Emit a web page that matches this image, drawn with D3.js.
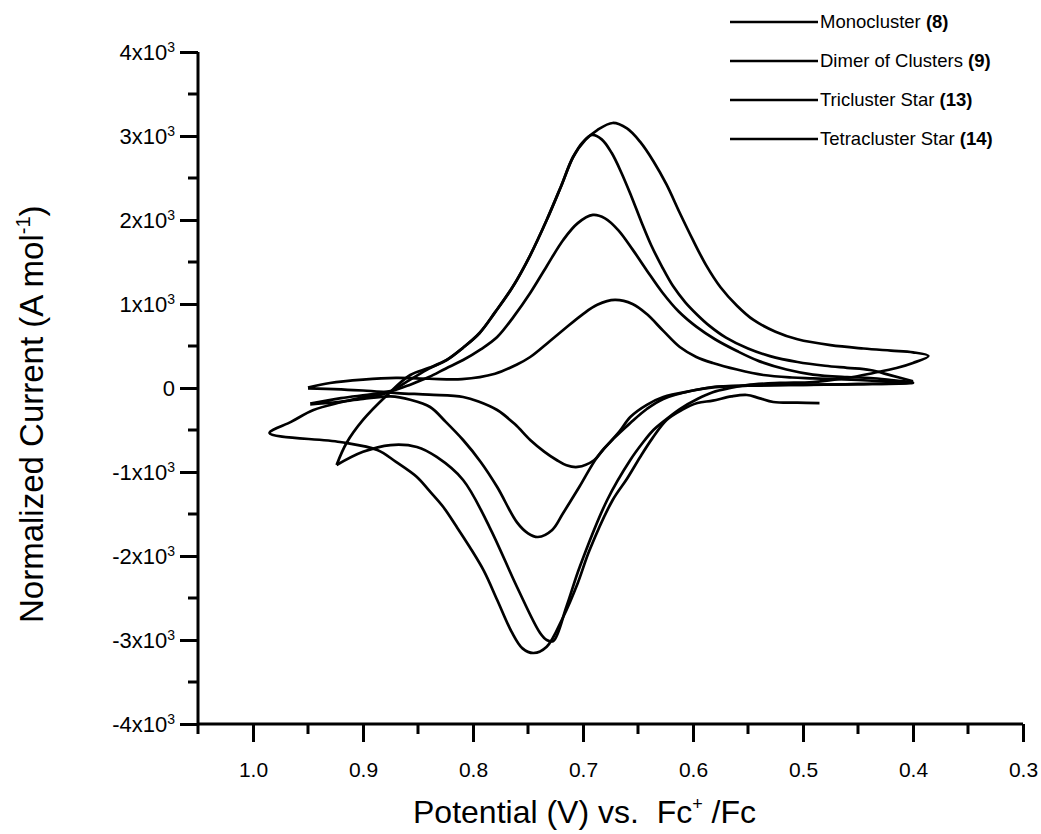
<!DOCTYPE html>
<html>
<head>
<meta charset="utf-8">
<script src="https://cdn.jsdelivr.net/npm/d3@7"></script>
<style>
	body { margin: 0; background: #fff; }
	svg { display: block; font-family: Arial, 'Liberation Sans', sans-serif; }
</style>
</head>
<body>
<div class="cv-plot"></div>
<script>
const width = 1041,
	height = 834

// voltammograms, [potential (V), normalized current (A/mol)]
const monocluster = [
	[0.95, 5], [0.93, 60], [0.9, 100], [0.87, 120], [0.84, 110], [0.81, 105],
	[0.78, 170], [0.76, 280], [0.748, 369], [0.73, 560], [0.718, 690], [0.7, 880],
	[0.687, 990], [0.671, 1048], [0.655, 1000], [0.642, 880], [0.627, 680],
	[0.612, 488], [0.597, 370], [0.582, 298], [0.56, 220], [0.536, 155],
	[0.51, 125], [0.491, 115], [0.45, 95], [0.42, 75], [0.4, 60],
	[0.45, 45], [0.5, 38], [0.55, 28], [0.582, 12], [0.6, -30], [0.627, -107],
	[0.642, -200], [0.657, -345], [0.667, -520], [0.682, -738], [0.69, -860],
	[0.705, -940], [0.715, -920], [0.724, -857], [0.735, -760], [0.748, -619],
	[0.762, -430], [0.778, -262], [0.795, -160], [0.809, -107], [0.84, -80],
	[0.869, -60], [0.9, -30], [0.95, -5]
]
const dimer = [
	[0.948, -185], [0.92, -120], [0.89, -70], [0.87, -20], [0.857, 40],
	[0.84, 130], [0.825, 230], [0.809, 333], [0.793, 460], [0.778, 607],
	[0.763, 850], [0.748, 1131], [0.733, 1450], [0.718, 1762], [0.705, 1960],
	[0.691, 2060], [0.68, 2020], [0.668, 1880], [0.655, 1650], [0.642, 1400],
	[0.628, 1140], [0.613, 910], [0.597, 730], [0.58, 580], [0.56, 440],
	[0.54, 320], [0.515, 220], [0.491, 160], [0.46, 130], [0.439, 119],
	[0.42, 95], [0.4, 65],
	[0.45, 45], [0.5, 38], [0.55, 28], [0.58, 10], [0.6, -30], [0.627, -130],
	[0.642, -250], [0.657, -417], [0.672, -600], [0.687, -821], [0.703, -1170],
	[0.718, -1488], [0.728, -1690], [0.741, -1774], [0.75, -1730], [0.76, -1600],
	[0.778, -1179], [0.793, -880], [0.809, -619], [0.825, -400], [0.839, -226],
	[0.857, -140], [0.875, -100], [0.9, -130], [0.925, -170], [0.948, -195]
]
const tricluster = [
	[0.485, -179], [0.505, -175], [0.527, -167], [0.54, -120], [0.551, -83],
	[0.565, -100], [0.582, -150], [0.596, -179], [0.61, -260], [0.624, -381],
	[0.637, -600], [0.648, -821], [0.66, -1080], [0.673, -1333], [0.694, -1929],
	[0.705, -2330], [0.718, -2726], [0.733, -3080], [0.745, -3155], [0.755, -3100],
	[0.765, -2900], [0.778, -2524], [0.79, -2180], [0.803, -1893], [0.815, -1650],
	[0.827, -1417], [0.84, -1220], [0.851, -1060], [0.87, -880], [0.887, -738],
	[0.921, -643], [0.985, -536],
	[0.965, -400], [0.945, -262], [0.92, -170], [0.9, -110], [0.878, -60],
	[0.857, 100], [0.84, 230], [0.824, 333], [0.809, 480], [0.794, 655],
	[0.78, 900], [0.764, 1202], [0.748, 1580], [0.733, 2000], [0.72, 2400],
	[0.709, 2750], [0.7, 2930], [0.692, 3012], [0.683, 2960], [0.674, 2800],
	[0.665, 2560], [0.656, 2280], [0.647, 1980], [0.638, 1700], [0.628, 1440],
	[0.618, 1210], [0.607, 1020], [0.596, 870], [0.585, 740], [0.57, 600],
	[0.55, 470], [0.53, 380], [0.505, 310], [0.48, 265], [0.46, 240],
	[0.439, 214], [0.42, 150], [0.4, 80]
]
const tetracluster = [
	[0.924, -917], [0.915, -655], [0.9, -380], [0.878, -83], [0.857, 155],
	[0.84, 240], [0.824, 333], [0.809, 480], [0.794, 655], [0.78, 900],
	[0.764, 1202], [0.748, 1580], [0.733, 2000], [0.72, 2400], [0.709, 2750],
	[0.698, 2950], [0.687, 3071], [0.673, 3155], [0.66, 3090], [0.648, 2930],
	[0.636, 2700], [0.624, 2420], [0.612, 2083], [0.6, 1760], [0.588, 1460],
	[0.575, 1200], [0.56, 980], [0.545, 810], [0.525, 670], [0.505, 580],
	[0.475, 510], [0.445, 470], [0.42, 445], [0.4, 425], [0.386, 381],
	[0.4, 298], [0.415, 238], [0.436, 179], [0.46, 119], [0.491, 71], [0.521, 60],
	[0.551, 36], [0.566, 0], [0.582, -50], [0.596, -130], [0.612, -250],
	[0.627, -400], [0.636, -500], [0.645, -640], [0.657, -857], [0.678, -1333],
	[0.703, -2131], [0.715, -2600], [0.727, -3012], [0.733, -3000], [0.739, -2917],
	[0.76, -2369], [0.785, -1655], [0.809, -1095], [0.833, -821], [0.851, -702],
	[0.875, -679], [0.9, -760], [0.924, -917]
]

const seriesNames = [
	['Monocluster ', '(8)'],
	['Dimer of Clusters ', '(9)'],
	['Tricluster Star ', '(13)'],
	['Tetracluster Star ', '(14)']
]
const seriesData = [monocluster, dimer, tricluster, tetracluster]

const xMajor = [1.0, 0.9, 0.8, 0.7, 0.6, 0.5, 0.4, 0.3]
const xMinor = [1.05, 0.95, 0.85, 0.75, 0.65, 0.55, 0.45, 0.35]
const yMajor = [-4, -3, -2, -1, 0, 1, 2, 3, 4]
const yMinor = [-3.5, -2.5, -1.5, -0.5, 0.5, 1.5, 2.5, 3.5]

const svg = d3
	.select('.cv-plot')
	.append('svg')
	.attr('width', width)
	.attr('height', height)

svg.append('rect').attr('width', width).attr('height', height).attr('fill', '#fff')

const x = d3.scaleLinear().domain([1.05, 0.3]).range([198, 1023])
const y = d3.scaleLinear().domain([-4000, 4000]).range([724, 52])

// curves
const line = d3
	.line()
	.x(d => x(d[0]))
	.y(d => y(d[1]))
	.curve(d3.curveCatmullRom.alpha(0.5))

svg
	.selectAll('path.cv')
	.data(seriesData)
	.enter()
	.append('path')
	.attr('class', 'cv')
	.attr('d', line)
	.attr('fill', 'none')
	.attr('stroke', '#000')
	.attr('stroke-width', 2.7)
	.attr('stroke-linejoin', 'round')

// axes
const xAxis = svg.append('g').attr('transform', `translate(0,${y(-4000)})`)
xAxis
	.call(d3.axisBottom(x).tickValues(xMajor).tickSize(18).tickFormat(d3.format('.1f')))
xAxis.selectAll('.tick line').attr('stroke-width', 3)
xAxis.select('.domain').attr('stroke-width', 3).attr('d', `M${x(1.05)},0H${x(0.3)}`)
xAxis
	.selectAll('.tick text')
	.attr('y', 53)
	.attr('dy', 0)
	.style('font-size', '21px')
	.attr('fill', '#000')

xAxis
	.selectAll('line.minor')
	.data(xMinor)
	.enter()
	.append('line')
	.attr('class', 'minor')
	.attr('x1', d => x(d))
	.attr('x2', d => x(d))
	.attr('y2', 10)
	.attr('stroke', '#000')
	.attr('stroke-width', 3)

const yAxis = svg.append('g').attr('transform', `translate(${x(1.05)},0)`)
yAxis.call(d3.axisLeft(y).tickValues(yMajor.map(v => v * 1000)).tickSize(18).tickFormat(''))
yAxis.selectAll('.tick line').attr('stroke-width', 3)
yAxis.select('.domain').attr('stroke-width', 3).attr('d', `M0,${y(4000)}V${y(-4000)}`)

yAxis
	.selectAll('line.minor')
	.data(yMinor)
	.enter()
	.append('line')
	.attr('class', 'minor')
	.attr('y1', d => y(d * 1000))
	.attr('y2', d => y(d * 1000))
	.attr('x2', -10)
	.attr('stroke', '#000')
	.attr('stroke-width', 3)

const yLabels = yAxis
	.selectAll('text.ylab')
	.data(yMajor)
	.enter()
	.append('text')
	.attr('class', 'ylab')
	.attr('x', -23)
	.attr('y', d => y(d * 1000) + 8)
	.attr('text-anchor', 'end')
	.style('font-size', '22px')
	.attr('fill', '#000')
yLabels.each(function (d) {
	const t = d3.select(this)
	if (d === 0) {
		t.text('0')
		return
	}
	t.append('tspan').text(`${d}x10`)
	t.append('tspan').attr('dy', -8).style('font-size', '14px').text('3')
})

// axis titles
const xTitle = svg
	.append('text')
	.attr('x', 413)
	.attr('y', 823)
	.style('font-size', '32px')
	.attr('xml:space', 'preserve')
xTitle.append('tspan').text('Potential (V) vs.  Fc')
xTitle.append('tspan').attr('dy', -13).style('font-size', '18px').text('+')
xTitle.append('tspan').attr('dy', 13).text(' /Fc')

const yTitle = svg
	.append('text')
	.attr('transform', 'translate(43,623) rotate(-90)')
	.style('font-size', '33px')
yTitle.append('tspan').text('Normalized Current (A mol')
yTitle.append('tspan').attr('dy', -13).style('font-size', '20px').text('-1')
yTitle.append('tspan').attr('dy', 13).text(')')

// legend
const legend = svg
	.selectAll('g.legend')
	.data(seriesNames)
	.enter()
	.append('g')
	.attr('class', 'legend')
	.attr('transform', (d, i) => `translate(730,${22 + i * 39})`)

legend
	.append('line')
	.attr('x1', 0)
	.attr('x2', 88)
	.attr('stroke', '#000')
	.attr('stroke-width', 2.6)

const legendText = legend
	.append('text')
	.attr('x', 90)
	.attr('y', 6)
	.style('font-size', '18.5px')
	.attr('xml:space', 'preserve')
legendText.append('tspan').text(d => d[0])
legendText.append('tspan').style('font-weight', 'bold').text(d => d[1])
</script>
</body>
</html>
